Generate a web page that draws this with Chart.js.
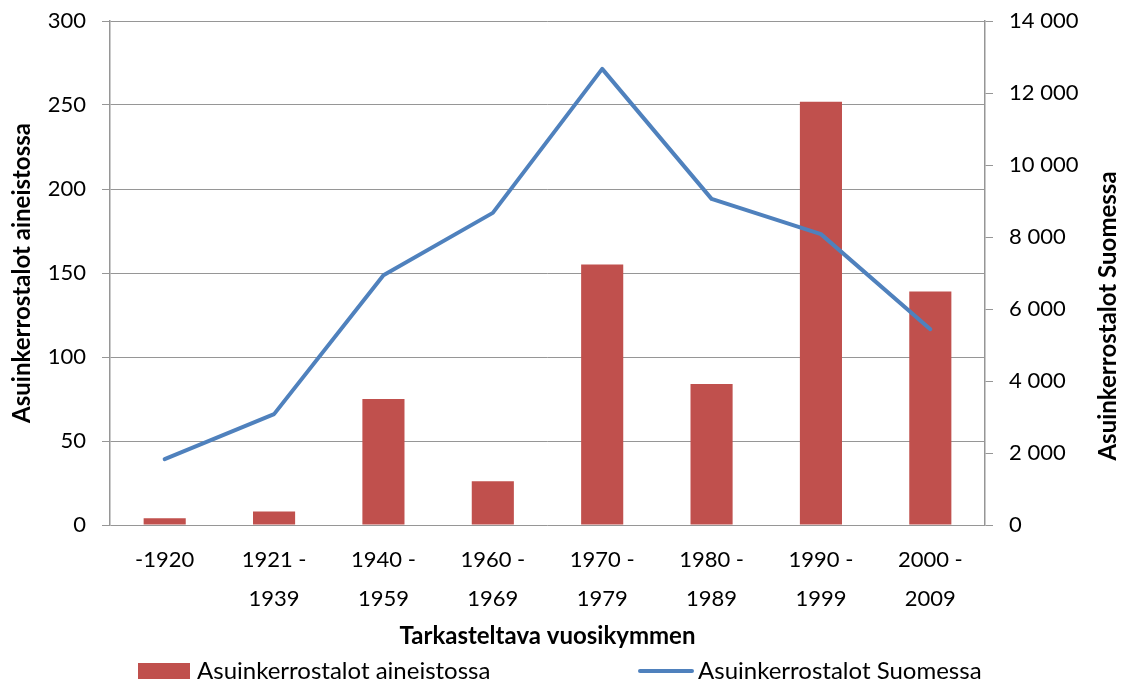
<!DOCTYPE html>
<html>
<head>
<meta charset="utf-8">
<script src="https://cdn.jsdelivr.net/npm/chart.js@4/dist/chart.umd.min.js"></script>
<style>
  html, body { margin: 0; padding: 0; background: #fff; }
  #wrap { width: 1126px; height: 684px; }
</style>
</head>
<body>
<div id="wrap"><canvas id="chart" width="1126" height="684"></canvas></div>
<script>
const categories = [['-1920'], ['1921 -', '1939'], ['1940 -', '1959'], ['1960 -', '1969'],
  ['1970 -', '1979'], ['1980 -', '1989'], ['1990 -', '1999'], ['2000 -', '2009']];
const aineistossa = [4, 8, 75, 26, 155, 84, 252, 139];
const suomessa = [1830, 3080, 6940, 8670, 12670, 9060, 8080, 5440];
const leftTicks = [0, 50, 100, 150, 200, 250, 300];
const rightTicks = [0, 2000, 4000, 6000, 8000, 10000, 12000, 14000];

const FONT = 'Lato';
const red = '#C0504D';
const blue = '#4F81BD';
const gridGray = '#969696';

function spaced(v) {
  return String(v).replace(/\B(?=(\d{3})+(?!\d))/g, ' ');
}

// legend and right axis title drawn by hand (Chart.js turns the right title the other way)
const extras = {
  id: 'extras',
  afterDraw(chart) {
    const c = chart.ctx;
    const y = 671;
    c.save();
    c.font = '24px ' + FONT;
    c.textBaseline = 'middle';
    c.fillStyle = red;
    c.fillRect(138, y - 8, 52, 16);
    c.fillStyle = '#000';
    c.fillText(chart.data.datasets[0].label, 197, y);
    c.strokeStyle = blue;
    c.lineWidth = 4;
    c.lineCap = 'round';
    c.beginPath();
    c.moveTo(640, y);
    c.lineTo(692, y);
    c.stroke();
    c.fillText(chart.data.datasets[1].label, 698, y);

    c.translate(1108, 316);
    c.rotate(-Math.PI / 2);
    c.font = 'bold 24px ' + FONT;
    c.textAlign = 'center';
    c.fillText(chart.data.datasets[1].label, 0, 0);
    c.restore();
  }
};

const ctx = document.getElementById('chart');
new Chart(ctx, {
  data: {
    labels: categories,
    datasets: [
      {
        type: 'bar',
        label: 'Asuinkerrostalot aineistossa',
        data: aineistossa,
        backgroundColor: red,
        yAxisID: 'y',
        barPercentage: 0.385,
        categoryPercentage: 1,
        order: 2
      },
      {
        type: 'line',
        label: 'Asuinkerrostalot Suomessa',
        data: suomessa,
        borderColor: blue,
        backgroundColor: blue,
        borderWidth: 4,
        pointRadius: 0,
        tension: 0,
        borderCapStyle: 'round',
        borderJoinStyle: 'round',
        yAxisID: 'y1',
        order: 1
      }
    ]
  },
  options: {
    responsive: false,
    animation: false,
    layout: { padding: { top: 21, bottom: 33, left: 0, right: 0 } },
    plugins: {
      legend: { display: false },
      tooltip: { enabled: false }
    },
    scales: {
      x: {
        afterFit(scale) { scale.height = 126; },
        grid: { display: false, drawTicks: false },
        border: { display: false },
        ticks: {
          color: '#000',
          font: { family: FONT, size: 22, lineHeight: 1.77 },
          padding: 15,
          maxRotation: 0
        },
        title: {
          display: true,
          text: 'Tarkasteltava vuosikymmen',
          color: '#000',
          font: { family: FONT, size: 24, weight: 'bold' },
          padding: { top: 0, bottom: 0 }
        }
      },
      y: {
        position: 'left',
        min: 0,
        max: 300,
        afterBuildTicks(scale) { scale.ticks = leftTicks.map(v => ({ value: v })); },
        afterFit(scale) {
          scale.width = 110;
          scale.paddingTop = 0;
          scale.paddingBottom = 0;
        },
        grid: { color: gridGray, lineWidth: 1, tickLength: 8 },
        border: { color: gridGray, width: 1.5 },
        ticks: {
          color: '#000',
          font: { family: FONT, size: 22 },
          padding: 16
        },
        title: {
          display: true,
          text: 'Asuinkerrostalot aineistossa',
          color: '#000',
          font: { family: FONT, size: 24, weight: 'bold' },
          padding: { top: 8, bottom: 0 }
        }
      },
      y1: {
        position: 'right',
        min: 0,
        max: 14000,
        afterBuildTicks(scale) { scale.ticks = rightTicks.map(v => ({ value: v })); },
        afterFit(scale) {
          scale.width = 141;
          scale.paddingTop = 0;
          scale.paddingBottom = 0;
        },
        grid: { drawOnChartArea: false, color: gridGray, tickLength: 8 },
        border: { color: gridGray, width: 1.5 },
        ticks: {
          color: '#000',
          font: { family: FONT, size: 22 },
          padding: 16,
          callback: v => spaced(v)
        }
      }
    }
  },
  plugins: [extras]
});
</script>
</body>
</html>
